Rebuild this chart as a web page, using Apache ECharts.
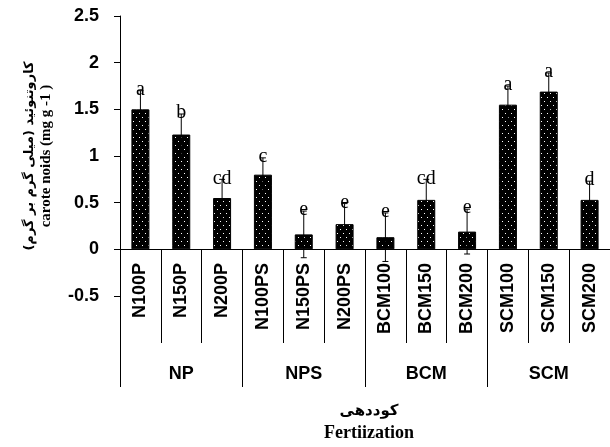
<!DOCTYPE html>
<html>
<head>
<meta charset="utf-8">
<script src="https://cdn.jsdelivr.net/npm/echarts@6/dist/echarts.min.js"></script>
<style>
html,body{margin:0;padding:0;background:#fff;}
#chart{width:610px;height:447px;}
</style>
</head>
<body>
<div id="chart"></div>
<script>
const categories = ['N100P','N150P','N200P','N100PS','N150PS','N200PS','BCM100','BCM150','BCM200','SCM100','SCM150','SCM200'];
const groups = ['NP','NPS','BCM','SCM'];
const values = [1.5, 1.23, 0.55, 0.8, 0.16, 0.27, 0.13, 0.53, 0.19, 1.55, 1.69, 0.53];
const errors = [0.2, 0.22, 0.2, 0.18, 0.25, 0.22, 0.26, 0.22, 0.24, 0.2, 0.2, 0.2];
const letters = ['a','b','cd','c','e','e','e','cd','e','a','a','d'];
const yTicks = { min: -0.5, max: 2.5, interval: 0.5 };

// dotted fill pattern
const pat = document.createElement('canvas');
pat.width = 6; pat.height = 8;
const pc = pat.getContext('2d');
pc.fillStyle = '#000'; pc.fillRect(0, 0, 6, 8);
pc.fillStyle = '#fff';
pc.fillRect(1, 1, 1, 1);
pc.fillRect(4, 5, 1, 1);

const chart = echarts.init(document.getElementById('chart'), null, { renderer: 'canvas' });

const errData = categories.map((c, i) => [i, values[i], errors[i]]);

function buildOption(zeroY) {
  return {
    backgroundColor: '#fff',
    animation: false,
    grid: [
      { left: 120, top: 16, width: 498, height: 280 },
      { left: 120, top: zeroY, width: 498, height: 140 }
    ],
    xAxis: [
      {
        type: 'category', gridIndex: 0, data: categories, position: 'bottom',
        axisLine: { show: true, onZero: true, lineStyle: { color: '#000', width: 1 } },
        axisTick: { show: false }, axisLabel: { show: false }, splitLine: { show: false }
      },
      {
        type: 'category', gridIndex: 1, data: categories, position: 'top',
        axisLine: { show: true, onZero: false, lineStyle: { color: '#000', width: 1 } },
        axisTick: { show: true, inside: true, interval: 0, length: 94, alignWithLabel: false, lineStyle: { color: '#000', width: 1 } },
        axisLabel: { inside: true, interval: 0, rotate: -90, margin: 14, color: '#000', fontWeight: 'bold', fontSize: 18, fontFamily: 'Liberation Sans' },
        splitLine: { show: false }
      },
      {
        type: 'category', gridIndex: 1, data: groups, position: 'top',
        axisLine: { show: false, onZero: false },
        axisTick: { show: true, inside: true, interval: 0, length: 138, alignWithLabel: false, lineStyle: { color: '#000', width: 1 } },
        axisLabel: { inside: true, interval: 0, margin: 116, color: '#000', fontWeight: 'bold', fontSize: 18, fontFamily: 'Liberation Sans' },
        splitLine: { show: false }
      }
    ],
    yAxis: [
      {
        type: 'value', gridIndex: 0,
        min: yTicks.min, max: yTicks.max, interval: yTicks.interval,
        axisLine: { show: true, onZero: false, lineStyle: { color: '#000', width: 1 } },
        axisTick: { show: true, inside: false, length: 6, lineStyle: { color: '#000', width: 1 } },
        axisLabel: { margin: 21, color: '#000', fontWeight: 'bold', fontSize: 18, fontFamily: 'Liberation Sans' },
        splitLine: { show: false },
        name: '{fa|کاروتنوئید (میلی گرم بر گرم)\u200F}\n{en|carote noids (mg g -1 )}',
        nameLocation: 'middle',
        nameRotate: 90,
        nameGap: 66,
        nameTextStyle: {
          rich: {
            fa: { fontFamily: 'DejaVu Sans', fontSize: 13, fontWeight: 'bold', color: '#000', lineHeight: 16 },
            en: { fontFamily: 'Liberation Serif', fontSize: 15, fontWeight: 'bold', color: '#000', lineHeight: 16 }
          }
        }
      },
      { type: 'value', gridIndex: 1, show: false, min: 0, max: 1 }
    ],
    series: [
      {
        type: 'bar', xAxisIndex: 0, yAxisIndex: 0,
        data: values,
        barWidth: 18,
        itemStyle: { color: { image: pat, repeat: 'repeat' }, borderColor: '#000', borderWidth: 1 }
      },
      {
        type: 'custom', xAxisIndex: 0, yAxisIndex: 0,
        data: errData,
        z: 5,
        renderItem: function (params, api) {
          const i = api.value(0), v = api.value(1), e = api.value(2);
          const top = api.coord([i, v + e]);
          const bot = api.coord([i, v - e]);
          const hw = 3;
          return {
            type: 'group',
            children: [
              { type: 'line', shape: { x1: top[0], y1: top[1], x2: bot[0], y2: bot[1] }, style: { stroke: '#000', lineWidth: 1 } },
              { type: 'line', shape: { x1: top[0] - hw, y1: top[1], x2: top[0] + hw, y2: top[1] }, style: { stroke: '#000', lineWidth: 1 } },
              { type: 'line', shape: { x1: bot[0] - hw, y1: bot[1], x2: bot[0] + hw, y2: bot[1] }, style: { stroke: '#000', lineWidth: 1 } },
              { type: 'text', x: top[0], y: top[1] - 1, style: { text: letters[params.dataIndex], fill: '#000', font: '20px "Liberation Serif"', align: 'center', verticalAlign: 'middle' } }
            ]
          };
        }
      }
    ],
    graphic: [
      { type: 'text', x: 369, y: 411, style: { text: 'کوددهی', fill: '#000', font: 'bold 15px "DejaVu Sans"', align: 'center', verticalAlign: 'middle' } },
      { type: 'text', x: 369, y: 433, style: { text: 'Fertiization', fill: '#000', font: 'bold 18px "Liberation Serif"', align: 'center', verticalAlign: 'middle' } }
    ]
  };
}

chart.setOption(buildOption(249));
const zeroY = Math.round(chart.convertToPixel({ yAxisIndex: 0 }, 0));
chart.setOption(buildOption(zeroY), true);
</script>
</body>
</html>
